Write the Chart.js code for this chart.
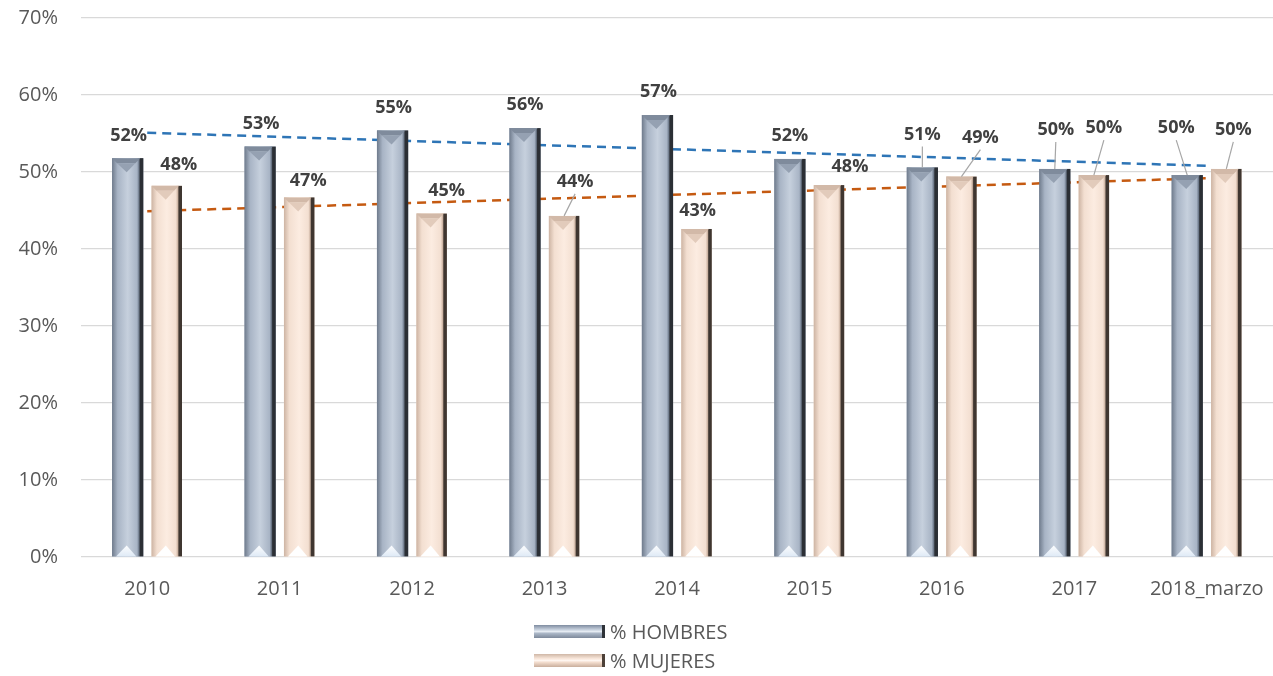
<!DOCTYPE html>
<html lang="es">
<head>
  <meta charset="UTF-8" />
  <title>% Hombres / % Mujeres</title>
  <script src="https://cdn.jsdelivr.net/npm/chart.js"></script>
  <style>
    body { margin: 0; background: #fff; font-family: 'Open Sans', sans-serif; }
    .wrap { position: relative; width: 1273px; height: 676px; }
    .legend { position: absolute; left: 534px; top: 617px; }
    .legend .item { display: flex; align-items: center; height: 29px; color: #595959; font-size: 20px; }
    .legend .box { width: 68px; height: 13px; margin-right: 5px; border-right: 3px solid #2e3238; }
    .box.h { background: linear-gradient(to bottom, #7f8ca0 0%, #c5cfdc 35%, #e6ecf3 50%, #aab6c6 65%, #7d899b 100%); }
    .box.m { background: linear-gradient(to bottom, #cfb7a6 0%, #f8e6da 35%, #fff6f0 50%, #f2dccd 65%, #c9ae9c 100%); border-right-color: #4c4038; }
  </style>
</head>
<body>
  <div class="wrap">
    <canvas id="chart" width="1273" height="676"></canvas>
    <div class="legend">
      <div class="item"><span class="box h"></span><span id="lg0"></span></div>
      <div class="item"><span class="box m"></span><span id="lg1"></span></div>
    </div>
  </div>

  <script>
    const years = ["2010", "2011", "2012", "2013", "2014", "2015", "2016", "2017", "2018_marzo"];
    const hombres = [51.8, 53.3, 55.4, 55.7, 57.4, 51.7, 50.6, 50.4, 49.6];
    const mujeres = [48.2, 46.7, 44.6, 44.3, 42.6, 48.3, 49.4, 49.6, 50.4];
    // linear trend endpoints as seen on the chart (first and last year)
    const trendHombres = [55.1, null, null, null, null, null, null, null, 50.8];
    const trendMujeres = [44.9, null, null, null, null, null, null, null, 49.2];
    const yTicks = [0, 10, 20, 30, 40, 50, 60, 70];

    // label placement relative to bar top: [dx, dy, leader line]
    const labelPosH = [[1,-22,0],[1,-23,0],[1,-23,0],[0,-23,0],[1,-23,0],[0,-23,0],[0,-33,1],[1,-39,1],[-11,-47,1]];
    const labelPosM = [[12,-21,0],[9,-17,0],[15,-23,0],[11,-34,1],[1,-18,0],[21,-18,0],[19,-39,1],[10,-47,1],[7,-39,1]];

    const barStyles = [
      { edge: '#6f7b8c', mid: '#a8b4c5', light: '#c6d0dd', dark: '#2b2f35', top: '#7f8b9c', topIn: '#95a1b2', tip: '#dfeaf6' },
      { edge: '#cdb4a3', mid: '#f3dfd1', light: '#fcece1', dark: '#3f3630', top: '#d2b9a8', topIn: '#e2cbbb', tip: '#ffffff' }
    ];

    const bevelPlugin = {
      id: 'bevel',
      afterDatasetsDraw(chart) {
        const ctx = chart.ctx;
        [0, 1].forEach(di => {
          const st = barStyles[di];
          chart.getDatasetMeta(di).data.forEach(bar => {
            const w = bar.width, l = bar.x - w / 2, r = bar.x + w / 2;
            const t = bar.y, b = bar.base;
            const g = ctx.createLinearGradient(l, 0, r, 0);
            g.addColorStop(0, st.edge);
            g.addColorStop(0.18, st.mid);
            g.addColorStop(0.5, st.light);
            g.addColorStop(0.8, st.mid);
            g.addColorStop(0.86, st.edge);
            g.addColorStop(0.9, st.dark);
            g.addColorStop(1, st.dark);
            ctx.save();
            ctx.fillStyle = g;
            ctx.fillRect(l, t, w, b - t);
            const bv = 5;
            // top bevel
            ctx.fillStyle = st.top;
            ctx.beginPath();
            ctx.moveTo(l, t); ctx.lineTo(r - 3, t); ctx.lineTo(r - 3 - bv, t + bv); ctx.lineTo(l + bv, t + bv);
            ctx.closePath(); ctx.fill();
            ctx.fillStyle = st.topIn;
            ctx.beginPath();
            ctx.moveTo(l + bv, t + bv); ctx.lineTo(r - 3 - bv, t + bv); ctx.lineTo(bar.x - 1, t + 14);
            ctx.closePath(); ctx.fill();
            // bottom highlight
            const tg = ctx.createLinearGradient(0, b - 12, 0, b);
            tg.addColorStop(0, '#ffffff');
            tg.addColorStop(1, st.tip);
            ctx.fillStyle = tg;
            ctx.beginPath();
            ctx.moveTo(l + 4, b); ctx.lineTo(bar.x - 1, b - 11); ctx.lineTo(r - 7, b);
            ctx.closePath(); ctx.fill();
            ctx.restore();
          });
        });
      },
      afterDraw(chart) {
        const ctx = chart.ctx;
        const sets = [[0, hombres, labelPosH], [1, mujeres, labelPosM]];
        ctx.save();
        ctx.font = "bold 18px 'Open Sans', sans-serif";
        ctx.fillStyle = '#404040';
        ctx.textAlign = 'center';
        ctx.textBaseline = 'middle';
        sets.forEach(([di, vals, pos]) => {
          chart.getDatasetMeta(di).data.forEach((bar, i) => {
            const [dx, dy, lead] = pos[i];
            const lx = bar.x + dx, ly = bar.y + dy;
            if (lead) {
              ctx.strokeStyle = '#a6a6a6';
              ctx.lineWidth = 1.2;
              ctx.beginPath();
              ctx.moveTo(lx, ly + 12);
              ctx.lineTo(bar.x, bar.y);
              ctx.stroke();
            }
            ctx.fillText(Math.round(vals[i]) + '%', lx, ly);
          });
        });
        ctx.restore();
      }
    };

    const chart = new Chart(document.getElementById('chart'), {
      type: 'bar',
      data: {
        labels: years,
        datasets: [
          { label: '% HOMBRES', data: hombres, backgroundColor: '#a8b4c5', order: 2,
            barPercentage: 0.8, categoryPercentage: 0.59 },
          { label: '% MUJERES', data: mujeres, backgroundColor: '#f3dfd1', order: 2,
            barPercentage: 0.78, categoryPercentage: 0.59 },
          { type: 'line', label: 'Lineal (% HOMBRES)', data: trendHombres, spanGaps: true, order: 0,
            borderColor: '#2e75b6', borderWidth: 2.5, borderDash: [9, 6], pointRadius: 0, fill: false },
          { type: 'line', label: 'Lineal (% MUJERES)', data: trendMujeres, spanGaps: true, order: 0,
            borderColor: '#c55a11', borderWidth: 2.5, borderDash: [9, 6], pointRadius: 0, fill: false }
        ]
      },
      options: {
        responsive: false,
        animation: false,
        layout: { padding: { top: 18, right: 0, bottom: 0, left: 0 } },
        plugins: {
          legend: { display: false },
          tooltip: { enabled: false }
        },
        scales: {
          x: {
            grid: { display: false },
            border: { display: false },
            ticks: { color: '#595959', font: { size: 20, family: "'Open Sans', sans-serif" }, padding: 12, maxRotation: 0 },
            afterFit(scale) { scale.height = 119; scale.paddingLeft = 0; scale.paddingRight = 0; }
          },
          y: {
            min: 0, max: 70,
            afterBuildTicks(scale) { scale.ticks = yTicks.map(v => ({ value: v })); },
            grid: { color: '#d9d9d9', lineWidth: 1.2, drawTicks: false },
            border: { display: false },
            ticks: { color: '#595959', font: { size: 20, family: "'Open Sans', sans-serif" }, padding: 23,
              callback: v => v + '%' },
            afterFit(scale) { scale.width = 81; scale.paddingTop = 0; scale.paddingBottom = 0; }
          }
        }
      },
      plugins: [bevelPlugin]
    });

    document.getElementById('lg0').textContent = chart.data.datasets[0].label;
    document.getElementById('lg1').textContent = chart.data.datasets[1].label;
  </script>
</body>
</html>
